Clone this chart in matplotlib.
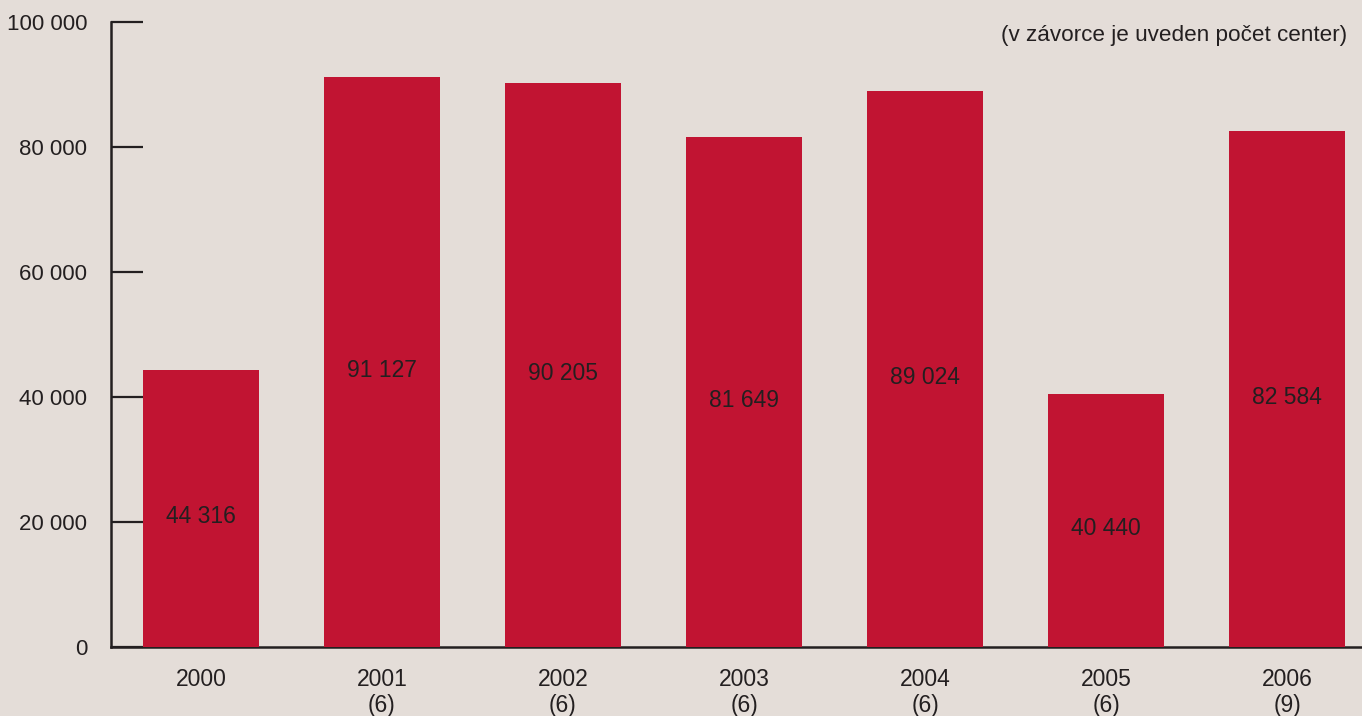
import matplotlib.pyplot as plt

years = ["2000", "2001", "2002", "2003", "2004", "2005", "2006"]
centers = ["", "(6)", "(6)", "(6)", "(6)", "(6)", "(9)"]
values = [44316, 91127, 90205, 81649, 89024, 40440, 82584]
value_labels = ["44 316", "91 127", "90 205", "81 649", "89 024", "40 440", "82 584"]
yticks = [0, 20000, 40000, 60000, 80000, 100000]
ytick_labels = ["0", "20 000", "40 000", "60 000", "80 000", "100 000"]

bg = "#e4ddd8"
bar_color = "#c11432"
ink = "#231f20"

plt.rcParams["font.family"] = ["Liberation Sans", "DejaVu Sans"]

fig = plt.figure(figsize=(13.62, 7.16), dpi=100, facecolor=bg)
ax = fig.add_axes([111 / 1362, 69 / 716, 1 - 111 / 1362, 625 / 716])
ax.set_facecolor(bg)

x = range(len(years))
ax.bar(x, values, width=0.64, color=bar_color, zorder=3)

for i, v in enumerate(values):
    ax.annotate(value_labels[i], (i, v / 2), xytext=(0, -6), textcoords="offset points",
                ha="center", va="center", fontsize=16.5, color=ink, zorder=4)

ax.set_xlim(-0.497, 6.414)
ax.set_ylim(0, 100000)

ax.set_yticks(yticks)
ax.set_yticklabels(ytick_labels, fontsize=16, color=ink)
ax.tick_params(axis="y", direction="in", length=23, width=1.6, color=ink, pad=17)

ax.set_xticks(list(x))
ax.set_xticklabels([y + ("\n" + c if c else "\n") for y, c in zip(years, centers)],
                   fontsize=16.5, color=ink, linespacing=1.2, va="top")
ax.tick_params(axis="x", length=0, pad=15)

for s in ["top", "right"]:
    ax.spines[s].set_visible(False)
ax.spines["left"].set_linewidth(1.8)
ax.spines["bottom"].set_linewidth(1.8)
ax.spines["left"].set_color(ink)
ax.spines["bottom"].set_color(ink)
ax.spines["bottom"].set_zorder(2)

fig.text(1347 / 1362, 1 - 36 / 716, "(v závorce je uveden počet center)",
         ha="right", va="center", fontsize=16.2, color=ink)

fig.savefig("out.png", dpi=100, facecolor=bg)
